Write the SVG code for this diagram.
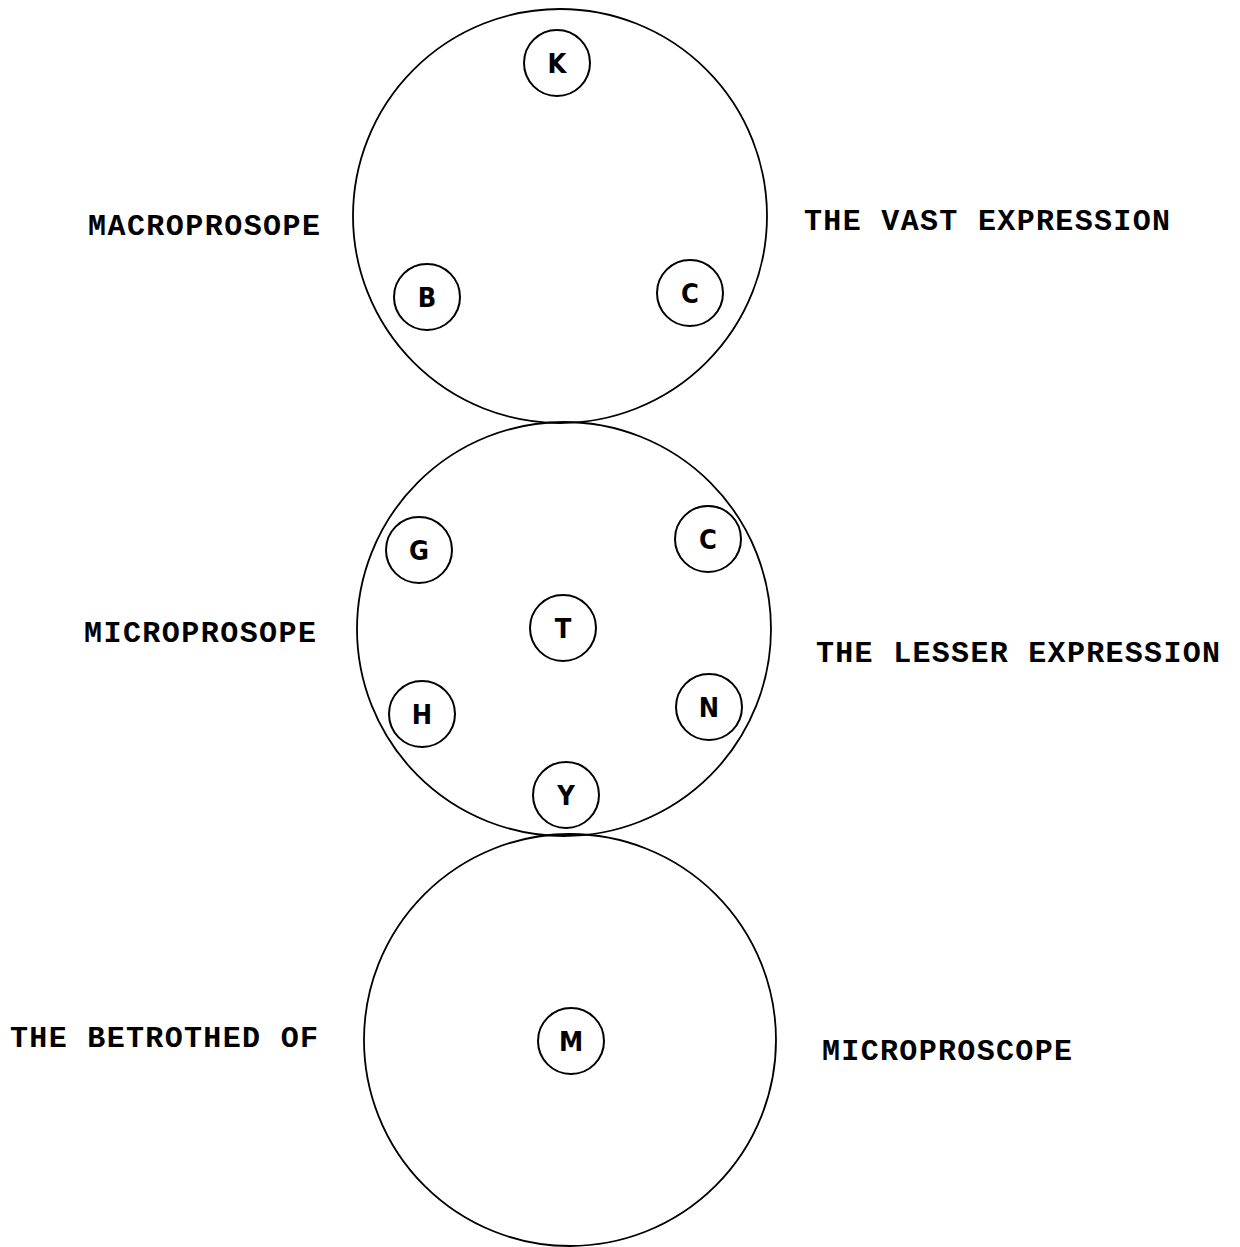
<svg xmlns="http://www.w3.org/2000/svg" width="1240" height="1247" viewBox="0 0 1240 1247">
<style>
.big{fill:none;stroke:#000;stroke-width:1.8}
.sm{fill:#fff;stroke:#000;stroke-width:2}
.lbl{font-family:"Liberation Mono","DejaVu Sans Mono",monospace;font-weight:bold;font-size:30px;fill:#000}
.ltr{font-family:"DejaVu Sans Condensed","Liberation Sans",sans-serif;font-weight:bold;font-size:27px;fill:#000;text-anchor:middle}
</style>
<rect width="1240" height="1247" fill="#fff"/>
<g id="macroprosope">
<circle class="big" cx="560" cy="216" r="207"/>
<text class="lbl" x="88" y="235" textLength="232" lengthAdjust="spacing">MACROPROSOPE</text>
<text class="lbl" x="804" y="230" textLength="366" lengthAdjust="spacing">THE VAST EXPRESSION</text>
</g>
<g id="microprosope">
<circle class="big" cx="564" cy="629" r="207"/>
<text class="lbl" x="84" y="642" textLength="232" lengthAdjust="spacing">MICROPROSOPE</text>
<text class="lbl" x="816" y="662" textLength="404" lengthAdjust="spacing">THE LESSER EXPRESSION</text>
</g>
<g id="bride">
<circle class="big" cx="570" cy="1040" r="206"/>
<text class="lbl" x="10" y="1047" textLength="308" lengthAdjust="spacing">THE BETROTHED OF</text>
<text class="lbl" x="822" y="1060" textLength="250" lengthAdjust="spacing">MICROPROSCOPE</text>
</g>
<g id="node-K"><circle class="sm" cx="557" cy="63" r="33"/><text class="ltr" x="557" y="73">K</text></g>
<g id="node-B"><circle class="sm" cx="427" cy="297" r="33"/><text class="ltr" x="427" y="307">B</text></g>
<g id="node-C1"><circle class="sm" cx="690" cy="293" r="33"/><text class="ltr" x="690" y="303">C</text></g>
<g id="node-G"><circle class="sm" cx="419" cy="550" r="33"/><text class="ltr" x="419" y="560">G</text></g>
<g id="node-C2"><circle class="sm" cx="708" cy="539" r="33"/><text class="ltr" x="708" y="549">C</text></g>
<g id="node-T"><circle class="sm" cx="563" cy="628" r="33"/><text class="ltr" x="563" y="638">T</text></g>
<g id="node-H"><circle class="sm" cx="422" cy="714" r="33"/><text class="ltr" x="422" y="724">H</text></g>
<g id="node-N"><circle class="sm" cx="709" cy="707" r="33"/><text class="ltr" x="709" y="717">N</text></g>
<g id="node-Y"><circle class="sm" cx="566" cy="795" r="33"/><text class="ltr" x="566" y="805">Y</text></g>
<g id="node-M"><circle class="sm" cx="571" cy="1041" r="33"/><text class="ltr" x="571" y="1051">M</text></g>
<g id="connectors"></g>
</svg>
